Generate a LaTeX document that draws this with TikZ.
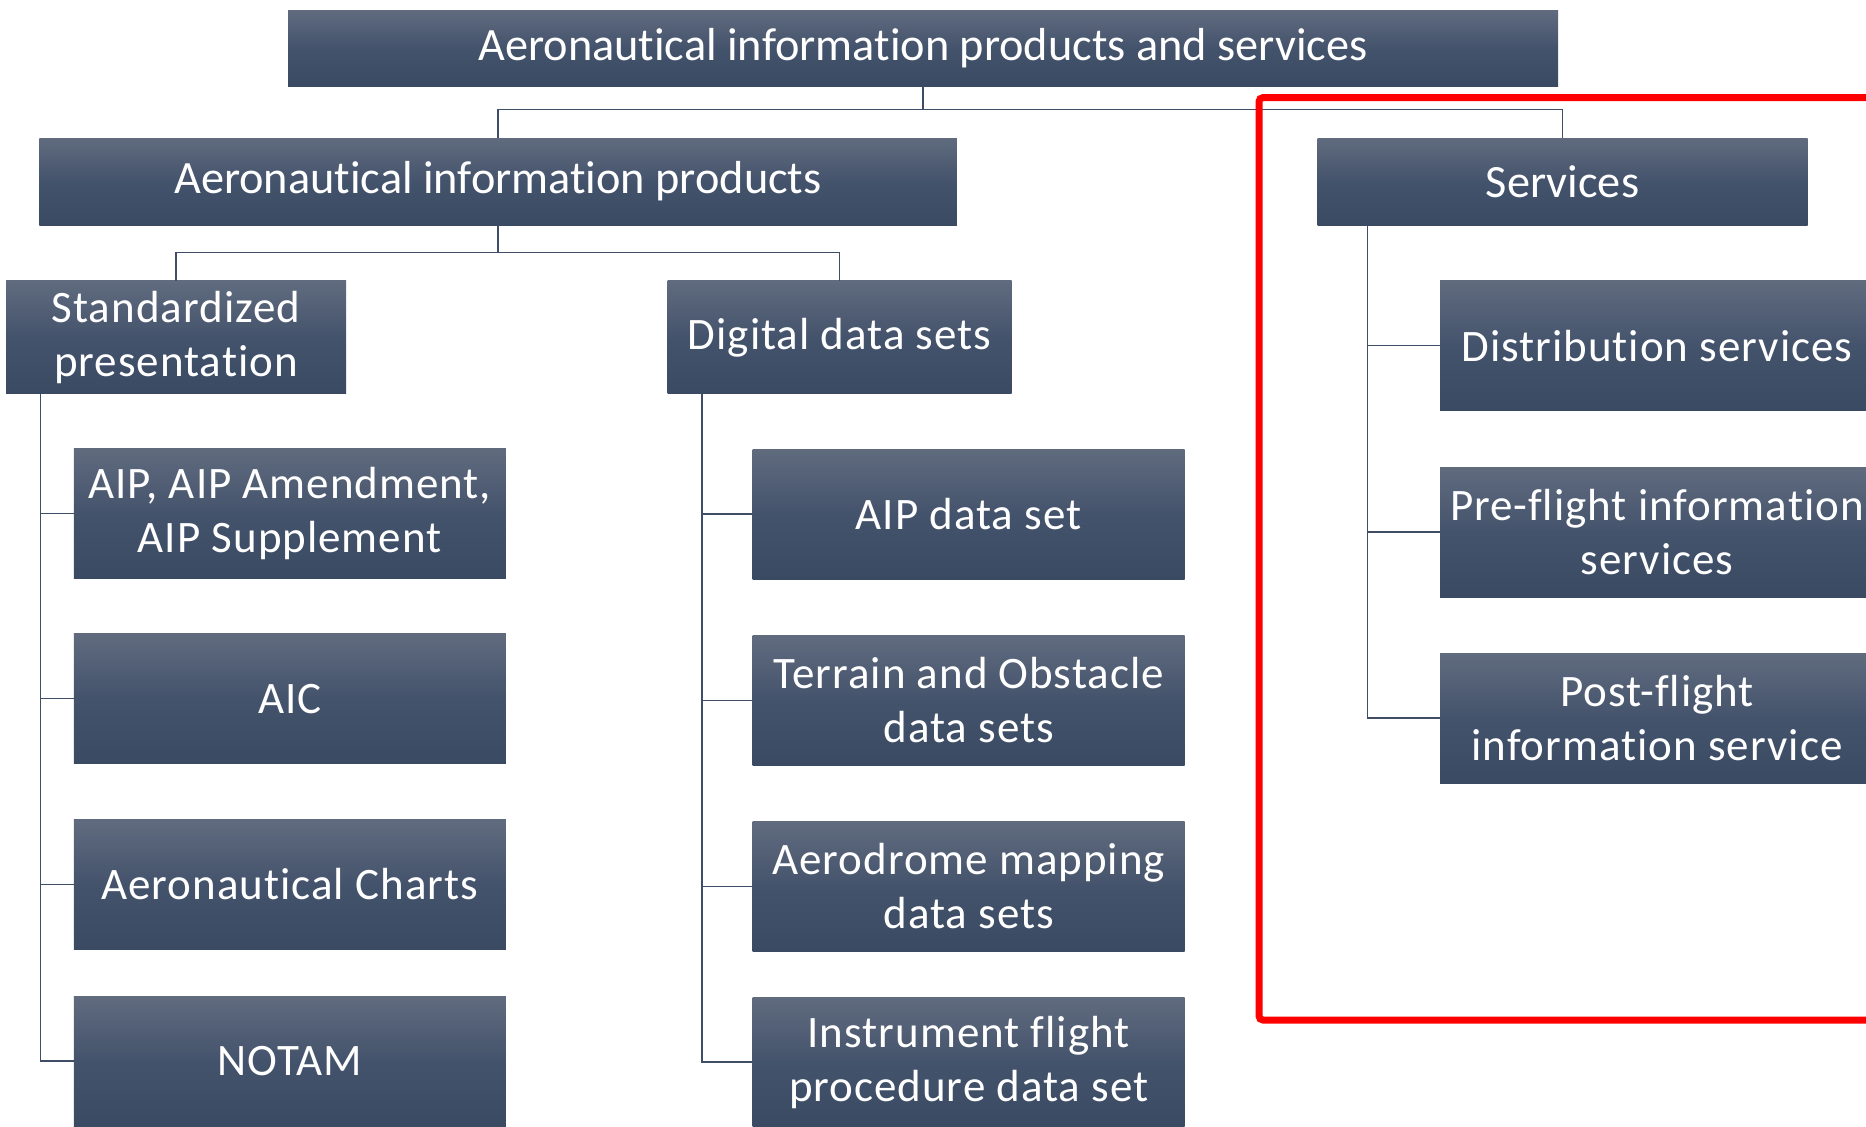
\documentclass[tikz,border=0pt]{standalone}
\usepackage{fontspec}
\setmainfont[Ligatures=NoCommon]{Carlito}
\newfontfamily\cf[LetterSpace=2.2,Ligatures=NoCommon]{Carlito}
\definecolor{boxtop}{RGB}{96,107,126}
\definecolor{boxmid}{RGB}{68,83,108}
\definecolor{boxbot}{RGB}{59,74,99}
\definecolor{conn}{RGB}{63,77,102}
\begin{document}
\begin{tikzpicture}[x=1pt,y=-1pt,
  box/.style={rectangle, inner sep=0pt, top color=boxtop, bottom color=boxbot, middle color=boxmid, text=white, align=center},
  big/.style={box, font=\fontsize{46.3}{55}\selectfont},
  small/.style={box, font=\cf\fontsize{45}{54}\selectfont},
  child/.style={small, minimum width=432pt, minimum height=130pt},
  link/.style={draw=conn, line width=1.5pt}]
\useasboundingbox (0,0) rectangle (1866,1127);
\fill[white] (0,0) rectangle (1866,1127);

\node[big, minimum width=1270pt, minimum height=76pt] (top) at (923,48) {Aeronautical information products and services};
\node[big, minimum width=917.5pt, minimum height=87pt] (prod) at (498,181.5) {Aeronautical information products};
\node[big, minimum width=490pt, minimum height=87pt] (serv) at (1562.5,181.5) {Services};

\node[small, minimum width=340pt, minimum height=113pt] (std) at (176,337.4) {Standardized\\presentation};
\node[small, minimum width=344pt, minimum height=113pt] (dig) at (839.6,337.4) {Digital data sets};

\node[child] (aip) at (289.8,513.5) {AIP, AIP Amendment,\\AIP Supplement};
\node[child] (aic) at (289.8,698.6) {AIC};
\node[child] (charts) at (289.8,884.3) {Aeronautical Charts};
\node[child] (notam) at (289.8,1061) {NOTAM};

\node[child] (aipds) at (968.7,514) {AIP data set};
\node[child] (tod) at (968.7,700.3) {Terrain and Obstacle\\data sets};
\node[child] (amd) at (968.7,886.5) {Aerodrome mapping\\data sets};
\node[child] (ifp) at (968.7,1062) {Instrument flight\\procedure data set};

\node[child, minimum width=434pt] (dist) at (1657,345.7) {Distribution services};
\node[child, minimum width=434pt] (pre) at (1657,532) {Pre-flight information\\services};
\node[child, minimum width=434pt] (post) at (1657,718.2) {Post-flight\\information service};

% top level connectors
\coordinate (tj) at (923,109.5);
\draw[link] (top.south) -- (tj);
\draw[link] (prod.north) |- (tj);
\draw[link] (serv.north) |- (tj);

\coordinate (pj) at (498,252.3);
\draw[link] (prod.south) -- (pj);
\draw[link] (std.north) |- (pj);
\draw[link] (dig.north) |- (pj);

% trunks
\coordinate (lt) at (40.5,393.9);
\draw[link] (lt) |- (notam.west);
\draw[link] (lt |- aip.west) -- (aip.west);
\draw[link] (lt |- aic.west) -- (aic.west);
\draw[link] (lt |- charts.west) -- (charts.west);

\coordinate (dt) at (702,393.9);
\draw[link] (dt) |- (ifp.west);
\draw[link] (dt |- aipds.west) -- (aipds.west);
\draw[link] (dt |- tod.west) -- (tod.west);
\draw[link] (dt |- amd.west) -- (amd.west);

\coordinate (st) at (1367.5,225);
\draw[link] (st) |- (post.west);
\draw[link] (st |- dist.west) -- (dist.west);
\draw[link] (st |- pre.west) -- (pre.west);

% highlight
\draw[red, line width=7pt, rounded corners=4pt] (1259,97.6) rectangle (1960,1020);
\end{tikzpicture}
\end{document}
